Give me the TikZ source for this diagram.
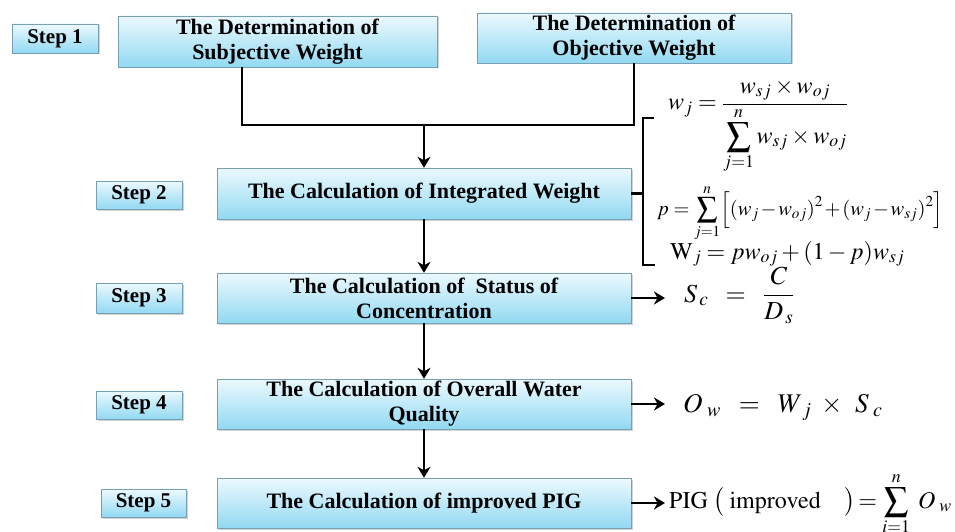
\documentclass[tikz,border=0pt]{standalone}
\usepackage{mathptmx}
\usepackage{fontspec}
\setmainfont{Liberation Serif}
\newfontfamily\boxfont{Liberation Serif}
\usetikzlibrary{arrows.meta,shadows}

\definecolor{boxtop}{RGB}{236,249,254}
\definecolor{boxbottom}{RGB}{146,217,242}
\definecolor{boxedge}{RGB}{120,160,180}

\tikzset{
    stepbox/.style={draw=boxedge, top color=boxtop, bottom color=boxbottom,
        drop shadow={shadow xshift=1.5pt, shadow yshift=-1.5pt, opacity=.35},
        font=\boxfont\fontsize{21}{24}\selectfont\bfseries, inner sep=0pt,
        minimum width=86pt, minimum height=29pt},
    taskbox/.style={stepbox, font=\boxfont\fontsize{22}{25}\selectfont\bfseries,
        align=center, minimum height=51pt},
    formula/.style={font=\fontsize{24}{28}\selectfont, inner sep=0pt, anchor=base west},
    flow/.style={line width=2.6pt},
    arr/.style={flow, -{Stealth[length=11pt,width=13pt,inset=3.5pt]}},
}

\begin{document}
\begin{tikzpicture}[x=1pt, y=-1pt]

    % 描画範囲
    \useasboundingbox (0,0) rectangle (955,532);

    % パラメータの定義
    \pgfmathsetmacro{\xc}{424}
    \pgfmathsetmacro{\xs}{139}
    \pgfmathsetmacro{\wb}{414}

    % 点の定義
    \coordinate (J) at (\xc,125);
    \coordinate (bT) at (643,118);
    \coordinate (bB) at (643,265);
    \coordinate (tip) at (665,0);

    % ステップ
    \node[stepbox] (step1) at (55,38.5) {Step 1};
    \node[stepbox, minimum height=28pt] (step2) at (\xs,195) {Step 2};
    \node[stepbox, minimum height=30pt] (step3) at (\xs,298) {Step 3};
    \node[stepbox, minimum height=28pt] (step4) at (\xs,405) {Step 4};
    \node[stepbox, minimum width=85pt, minimum height=28pt] (step5) at (143.5,503) {Step 5};

    % 処理の箱
    \node[taskbox, minimum width=319pt] (subj) at (277.5,41.5) {The Determination of\\Subjective Weight};
    \node[taskbox, minimum width=314pt, minimum height=50pt] (obj) at (634,38) {The Determination of\\Objective Weight};
    \node[taskbox, minimum width=\wb pt] (integ) at (\xc,193.5) {The Calculation of Integrated Weight};
    \node[taskbox, minimum width=\wb pt, minimum height=50pt] (status) at (\xc,298) {The Calculation of\ \ Status of\\Concentration};
    \node[taskbox, minimum width=\wb pt, minimum height=50pt] (overall) at (\xc,404) {The Calculation of Overall Water\\Quality};
    \node[taskbox, minimum width=\wb pt, minimum height=50pt] (pig) at (\xc,503) {The Calculation of improved PIG};

    % 式
    \node[formula] (f1) at (668,110) {$w_{j} = \displaystyle\frac{w_{sj}\times w_{oj}}{\displaystyle\sum_{j=1}^{n} w_{sj}\times w_{oj}}$};
    \node[formula, font=\fontsize{20.5}{24}\selectfont] (f2) at (657,215)
        {$\medmuskip=1.5mu p=\displaystyle\sum_{j=1}^{n}\Bigl[(w_{j}-w_{oj})^{2}+(w_{j}-w_{sj})^{2}\Bigr]$};
    \node[formula] (f3) at (670,259) {$\mathrm{W}_{j} = pw_{oj}+(1-p)w_{sj}$};
    \node[formula, font=\fontsize{26}{30}\selectfont] (f4) at (684,302) {$S_{\,c} \;\;=\;\; \displaystyle\frac{C}{D_{\,s}}$};
    \node[formula, font=\fontsize{27}{30}\selectfont] (f5) at (683,412) {$O_{\;w} \;\;=\;\; W_{\;j}\;\times\;\, S_{\;c}$};
    \node[formula] (f6) at (669,508) {$\mathrm{PIG}\;\bigl(\;\mathrm{improved}\quad\bigr)\!=\displaystyle\sum_{i=1}^{n}\; O_{\;w}$};

    % 線分の描画
    \draw [flow] ([xshift=-35.5pt]subj.south) |- (J) -| (obj.south);
    \draw [arr] (J) -- (integ.north);
    \draw [arr] (integ.south) -- (status.north);
    \draw [arr] (status.south) -- (overall.north);
    \draw [arr] (overall.south) -- (pig.north);

    % 括弧
    \draw [flow] (integ.east) -- (integ.east -| bT);
    \draw [flow] ([xshift=11pt]bT) -- (bT) -- (bB) -- ([xshift=12pt]bB);

    % 式への矢印
    \draw [arr] (status.east) -- (status.east -| tip);
    \draw [arr] (overall.east) -- (overall.east -| tip);
    \draw [arr] (pig.east) -- (pig.east -| tip);

\end{tikzpicture}
\end{document}
